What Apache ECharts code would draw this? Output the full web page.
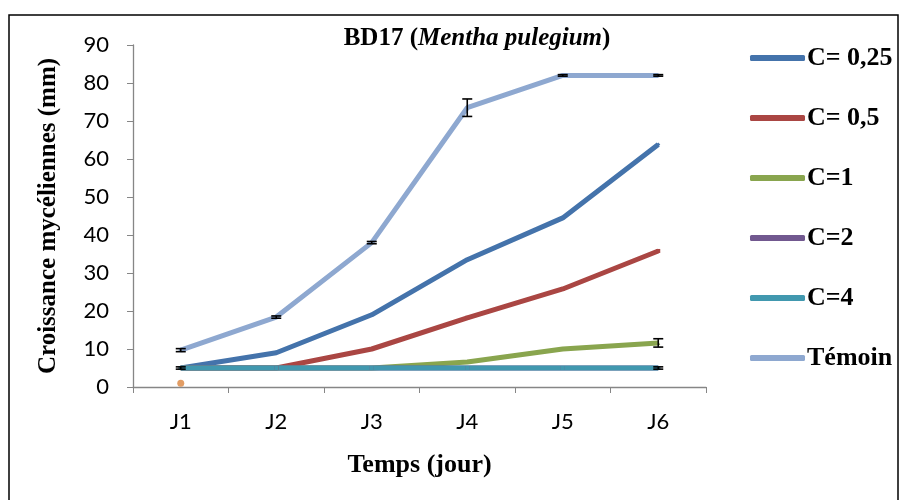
<!DOCTYPE html>
<html>
<head>
<meta charset="utf-8">
<script src="https://cdn.jsdelivr.net/npm/echarts@6/dist/echarts.min.js"></script>
<style>
  html, body { margin: 0; padding: 0; background: #fff; }
  #chart { width: 905px; height: 500px; }
</style>
</head>
<body>
<div id="chart"></div>
<script>
// Days of measurement
const days = ['J1', 'J2', 'J3', 'J4', 'J5', 'J6'];

// Mycelial growth (mm) per concentration
const c025   = [5, 9, 19, 33.5, 44.5, 63.8];
const c05    = [5, 5, 10, 18.2, 25.8, 35.8];
const c1     = [5, 5, 5, 6.6, 10, 11.6];
const c2     = [5, 5, 5, 5, 5, 5];
const c4     = [5, 5, 5, 5, 5, 5];
const temoin = [9.7, 18.4, 38, 73.5, 82, 82];

// Standard errors shown as error bars
const errTemoin = [0.4, 0.3, 0.3, 2.3, 0.2, 0.2];
const errC025   = [0.3, 0, 0, 0, 0, 0];
const errC1     = [0, 0, 0, 0, 0, 1.1];
const errC4     = [0, 0, 0, 0, 0, 0.3];

// Isolated point at J1
const extraPoint = [[ 'J1', 1 ]];

const yTicks = { min: 0, max: 90, interval: 10 };

const serif = '"Liberation Serif", "Times New Roman", serif';
const sans = 'Lato, "Noto Sans", sans-serif';

function errorSeries(values, errs) {
  const data = [];
  values.forEach((v, i) => { if (errs[i] > 0) data.push([i, v - errs[i], v + errs[i]]); });
  return {
    type: 'custom',
    z: 5,
    silent: true,
    data: data,
    renderItem: function (params, api) {
      const x = api.value(0);
      const lo = api.coord([x, api.value(1)]);
      const hi = api.coord([x, api.value(2)]);
      const w = 5;
      const style = { stroke: '#000', lineWidth: 1.6 };
      return {
        type: 'group',
        children: [
          { type: 'line', shape: { x1: lo[0], y1: lo[1], x2: hi[0], y2: hi[1] }, style: style },
          { type: 'line', shape: { x1: lo[0] - w, y1: lo[1], x2: lo[0] + w, y2: lo[1] }, style: style },
          { type: 'line', shape: { x1: hi[0] - w, y1: hi[1], x2: hi[0] + w, y2: hi[1] }, style: style }
        ]
      };
    }
  };
}

function lineSeries(name, values, color, symbol) {
  return {
    name: name,
    type: 'line',
    data: values,
    symbol: symbol,
    symbolSize: 4,
    showSymbol: true,
    itemStyle: { color: color },
    lineStyle: { color: color, width: 5 },
    emphasis: { disabled: true }
  };
}

const chart = echarts.init(document.getElementById('chart'));
chart.setOption({
  animation: false,
  backgroundColor: '#fff',
  graphic: [{
    type: 'rect',
    shape: { x: 9, y: 15, width: 889, height: 500 },
    style: { fill: 'none', stroke: '#000', lineWidth: 1.5 },
    silent: true
  }],
  title: {
    text: '{b|BD17 (}{i|Mentha pulegium}{b|)}',
    left: 472,
    top: 21,
    textAlign: 'center',
    textStyle: {
      rich: {
        b: { fontFamily: serif, fontWeight: 'bold', fontSize: 25, color: '#000' },
        i: { fontFamily: serif, fontWeight: 'bold', fontStyle: 'italic', fontSize: 25, color: '#000' }
      }
    }
  },
  legend: {
    orient: 'vertical',
    left: 745,
    top: 38,
    itemGap: 30,
    itemWidth: 55,
    itemHeight: 6,
    icon: 'roundRect',
    data: ['C= 0,25', 'C= 0,5', 'C=1', 'C=2', 'C=4', 'Témoin'],
    textStyle: { fontFamily: serif, fontWeight: 'bold', fontSize: 26, lineHeight: 30, color: '#000', padding: [0, 0, 0, -3] }
  },
  grid: { left: 133, right: 199, top: 45, bottom: 113 },
  xAxis: {
    type: 'category',
    data: days,
    boundaryGap: true,
    axisLine: { lineStyle: { color: '#868686', width: 1.3 } },
    axisTick: { show: true, length: 6, lineStyle: { color: '#868686' } },
    axisLabel: { fontFamily: sans, fontSize: 22, color: '#000', margin: 24 },
    name: 'Temps (jour)',
    nameLocation: 'middle',
    nameGap: 65,
    nameTextStyle: { fontFamily: serif, fontWeight: 'bold', fontSize: 26, color: '#000' }
  },
  yAxis: {
    type: 'value',
    min: yTicks.min,
    max: yTicks.max,
    interval: yTicks.interval,
    splitLine: { show: false },
    axisLine: { show: true, lineStyle: { color: '#868686', width: 1.3 } },
    axisTick: { show: true, length: 6, lineStyle: { color: '#868686' } },
    axisLabel: { fontFamily: sans, fontSize: 22, color: '#000', margin: 24 },
    name: 'Croissance mycéliennes (mm)',
    nameLocation: 'middle',
    nameGap: 72,
    nameTextStyle: { fontFamily: serif, fontWeight: 'bold', fontSize: 25, color: '#000' }
  },
  series: [
    lineSeries('C= 0,25', c025, '#4473AB', 'diamond'),
    lineSeries('C= 0,5', c05, '#AA4643', 'rect'),
    lineSeries('C=1', c1, '#89A54E', 'triangle'),
    lineSeries('C=2', c2, '#71588F', 'rect'),
    lineSeries('C=4', c4, '#4198AF', 'rect'),
    lineSeries('Témoin', temoin, '#8EA8D0', 'circle'),
    {
      type: 'scatter',
      data: extraPoint,
      symbol: 'circle',
      symbolSize: 7,
      itemStyle: { color: '#DB843D' },
      silent: true
    },
    errorSeries(temoin, errTemoin),
    errorSeries(c025, errC025),
    errorSeries(c1, errC1),
    errorSeries(c4, errC4)
  ]
});
</script>
</body>
</html>
